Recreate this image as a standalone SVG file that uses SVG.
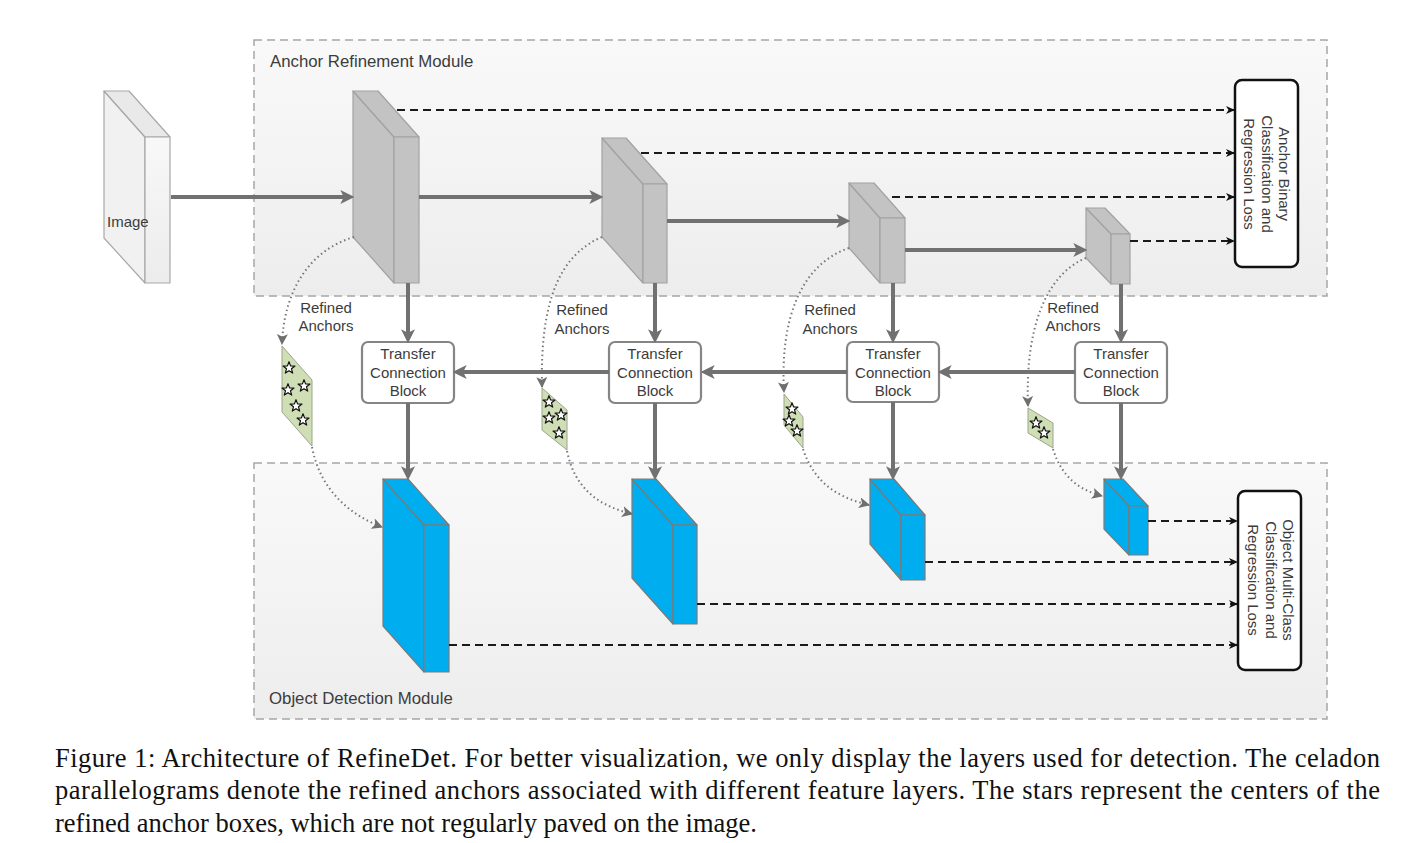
<svg xmlns="http://www.w3.org/2000/svg" width="1426" height="843" viewBox="0 0 1426 843">
<style>
.mod{stroke:#a6a6a6;stroke-width:1.5;stroke-dasharray:8,5;}
.lbl{font-family:"Liberation Sans",Arial,sans-serif;fill:#3c3c3c;}
.mlbl{font-size:16.8px;}
.t15{font-size:15px;}
.gray{fill:#c3c3c3;stroke:#a2a2a2;stroke-width:1.2;stroke-linejoin:round;}
.blue{fill:#00aeef;stroke:#7a7a7a;stroke-width:1.2;stroke-linejoin:round;}
.img{stroke:#a8a8a8;stroke-width:1.2;stroke-linejoin:round;}
.tcb{fill:#ffffff;stroke:#858585;stroke-width:2.2;}
.loss{fill:#ffffff;stroke:#111111;stroke-width:2.5;}
.thick{fill:none;stroke:#717171;stroke-width:4;marker-end:url(#ah);}
.dash{fill:none;stroke:#1a1a1a;stroke-width:1.8;stroke-dasharray:8,5;marker-end:url(#ad);}
.dot{fill:none;stroke:#777777;stroke-width:2;stroke-dasharray:1.5,3;marker-end:url(#ao);}
.cel{fill:#d0deb6;stroke:#9aa58a;stroke-width:1;}
.star{fill:#ffffff;stroke:#111111;stroke-width:1.2;stroke-linejoin:round;}
.cap{font-family:"Liberation Serif","Times New Roman",serif;font-size:26.5px;fill:#111111;}
</style>
<defs>
<linearGradient id="gbg" x1="0" y1="0" x2="0" y2="1">
<stop offset="0" stop-color="#f9f9f9"/>
<stop offset="1" stop-color="#ededed"/>
</linearGradient>
<linearGradient id="gimg" x1="0" y1="0" x2="0" y2="1">
<stop offset="0" stop-color="#f8f8f8"/>
<stop offset="1" stop-color="#ececec"/>
</linearGradient>
<marker id="ah" markerUnits="userSpaceOnUse" markerWidth="14" markerHeight="14" viewBox="0 0 12 12" refX="4" refY="6" orient="auto">
<path d="M0,0 L12,6 L0,12 L3,6 Z" fill="#717171"/>
</marker>
<marker id="ad" markerUnits="userSpaceOnUse" markerWidth="9" markerHeight="9" viewBox="0 0 9 9" refX="8" refY="4.5" orient="auto">
<path d="M0,0.5 L9,4.5 L0,8.5 L2.5,4.5 Z" fill="#111111"/>
</marker>
<marker id="ao" markerUnits="userSpaceOnUse" markerWidth="11" markerHeight="11" viewBox="0 0 10 10" refX="9" refY="5" orient="auto">
<path d="M0,0 L10,5 L0,10 L2.5,5 Z" fill="#6f6f6f"/>
</marker>
<path id="st" class="star" d="M0,-6.3 L1.55,-2.13 L5.99,-1.95 L2.51,0.81 L3.7,5.1 L0,2.63 L-3.7,5.1 L-2.51,0.81 L-5.99,-1.95 L-1.55,-2.13 Z"/>
</defs>
<rect width="1426" height="843" fill="#ffffff"/>

<g id="arm">
<rect class="mod" x="254" y="40" width="1073" height="256" fill="url(#gbg)"/>
<text class="lbl mlbl" x="270" y="67">Anchor Refinement Module</text>
</g>
<g id="odm">
<rect class="mod" x="254" y="463" width="1073" height="256" fill="url(#gbg)"/>
<text class="lbl mlbl" x="269" y="704">Object Detection Module</text>
</g>

<g id="image">
<polygon class="img" fill="#f1f1f1" points="104,91 145,137 145,283 104,238"/>
<polygon class="img" fill="#e9e9e9" points="104,91 129,91 170,137 145,137"/>
<rect class="img" fill="url(#gimg)" x="145" y="137" width="25" height="146"/>
<text class="lbl t15" x="107" y="227">Image</text>
</g>

<g id="arm1">
<polygon class="gray" points="353,91 394,137 394,283 353,237"/>
<polygon class="gray" points="353,91 378,91 419,137 394,137"/>
<rect class="gray" x="394" y="137" width="25" height="146"/>
</g>
<g id="arm2">
<polygon class="gray" points="602,138 643,184 643,283 602,237"/>
<polygon class="gray" points="602,138 626,138 667,184 643,184"/>
<rect class="gray" x="643" y="184" width="24" height="99"/>
</g>
<g id="arm3">
<polygon class="gray" points="849,183 880,218 880,283 849,248"/>
<polygon class="gray" points="849,183 874,183 905,218 880,218"/>
<rect class="gray" x="880" y="218" width="25" height="65"/>
</g>
<g id="arm4">
<polygon class="gray" points="1086,208 1111,234 1111,284 1086,258"/>
<polygon class="gray" points="1086,208 1105,208 1130,234 1111,234"/>
<rect class="gray" x="1111" y="234" width="19" height="50"/>
</g>

<g id="loss_arm">
<rect class="loss" x="1235" y="80" width="63" height="187" rx="7"/>
<text class="lbl t15" fill="#333" text-anchor="middle" transform="translate(1279,174) rotate(90)"><tspan x="0" y="0">Anchor Binary</tspan><tspan x="0" y="17.5">Classification and</tspan><tspan x="0" y="35">Regression Loss</tspan></text>
</g>
<g id="loss_odm">
<rect class="loss" x="1238" y="491" width="63" height="179" rx="7"/>
<text class="lbl t15" fill="#333" text-anchor="middle" transform="translate(1283,580) rotate(90)"><tspan x="0" y="0">Object Multi-Class</tspan><tspan x="0" y="17.5">Classification and</tspan><tspan x="0" y="35">Regression Loss</tspan></text>
</g>

<g id="tcb1">
<rect class="tcb" x="362" y="342" width="92" height="61" rx="6"/>
<text class="lbl t15" text-anchor="middle"><tspan x="408" y="359">Transfer</tspan><tspan x="408" y="377.5">Connection</tspan><tspan x="408" y="396">Block</tspan></text>
</g>
<g id="tcb2">
<rect class="tcb" x="609" y="342" width="92" height="61" rx="6"/>
<text class="lbl t15" text-anchor="middle"><tspan x="655" y="359">Transfer</tspan><tspan x="655" y="377.5">Connection</tspan><tspan x="655" y="396">Block</tspan></text>
</g>
<g id="tcb3">
<rect class="tcb" x="847" y="342" width="92" height="60" rx="6"/>
<text class="lbl t15" text-anchor="middle"><tspan x="893" y="359">Transfer</tspan><tspan x="893" y="377.5">Connection</tspan><tspan x="893" y="396">Block</tspan></text>
</g>
<g id="tcb4">
<rect class="tcb" x="1075" y="342" width="92" height="61" rx="6"/>
<text class="lbl t15" text-anchor="middle"><tspan x="1121" y="359">Transfer</tspan><tspan x="1121" y="377.5">Connection</tspan><tspan x="1121" y="396">Block</tspan></text>
</g>

<g id="odm1">
<polygon class="blue" points="383,479 424,525 424,672 383,626"/>
<polygon class="blue" points="383,479 408,479 449,525 424,525"/>
<rect class="blue" x="424" y="525" width="25" height="147"/>
</g>
<g id="odm2">
<polygon class="blue" points="632,479 673,525 673,624 632,578"/>
<polygon class="blue" points="632,479 656,479 697,525 673,525"/>
<rect class="blue" x="673" y="525" width="24" height="99"/>
</g>
<g id="odm3">
<polygon class="blue" points="870,479 901,515 901,580 870,544"/>
<polygon class="blue" points="870,479 894,479 925,515 901,515"/>
<rect class="blue" x="901" y="515" width="24" height="65"/>
</g>
<g id="odm4">
<polygon class="blue" points="1104,479 1129,506 1129,555 1104,529"/>
<polygon class="blue" points="1104,479 1123,479 1148,506 1129,506"/>
<rect class="blue" x="1129" y="506" width="19" height="49"/>
</g>

<g id="anchors1">
<polygon class="cel" points="282,346 312,380 312,446 282,412"/>
<use href="#st" x="289" y="368"/><use href="#st" x="304" y="386"/><use href="#st" x="288" y="390"/><use href="#st" x="296" y="406"/><use href="#st" x="303" y="420"/>
<text class="lbl t15" text-anchor="middle"><tspan x="326" y="313">Refined</tspan><tspan x="326" y="331">Anchors</tspan></text>
</g>
<g id="anchors2">
<polygon class="cel" points="542,388 567,410 567,450 542,430"/>
<use href="#st" x="549" y="402"/><use href="#st" x="561" y="415"/><use href="#st" x="549" y="418"/><use href="#st" x="559" y="433"/>
<text class="lbl t15" text-anchor="middle"><tspan x="582" y="315">Refined</tspan><tspan x="582" y="334">Anchors</tspan></text>
</g>
<g id="anchors3">
<polygon class="cel" points="784,394 803,417 803,448 784,425"/>
<use href="#st" x="792" y="409"/><use href="#st" x="789" y="421"/><use href="#st" x="797" y="431"/>
<text class="lbl t15" text-anchor="middle"><tspan x="830" y="315">Refined</tspan><tspan x="830" y="334">Anchors</tspan></text>
</g>
<g id="anchors4">
<polygon class="cel" points="1028,408 1053,423 1053,448 1028,433"/>
<use href="#st" x="1036" y="423"/><use href="#st" x="1044" y="433"/>
<text class="lbl t15" text-anchor="middle"><tspan x="1073" y="313">Refined</tspan><tspan x="1073" y="331">Anchors</tspan></text>
</g>

<g id="connectors">
<path class="thick" d="M171,197 H345"/>
<path class="thick" d="M419,197 H594"/>
<path class="thick" d="M667,221 H841"/>
<path class="thick" d="M905,250 H1078"/>
<path class="thick" d="M408,283 V334"/>
<path class="thick" d="M655,283 V334"/>
<path class="thick" d="M893,283 V334"/>
<path class="thick" d="M1121,284 V334"/>
<path class="thick" d="M1075,372 H947"/>
<path class="thick" d="M847,372 H710"/>
<path class="thick" d="M609,372 H462"/>
<path class="thick" d="M408,403 V471"/>
<path class="thick" d="M655,403 V471"/>
<path class="thick" d="M893,402 V471"/>
<path class="thick" d="M1121,403 V471"/>
<path class="dash" d="M397,110 H1234"/>
<path class="dash" d="M641,153 H1234"/>
<path class="dash" d="M892,197 H1234"/>
<path class="dash" d="M1130,241 H1234"/>
<path class="dash" d="M1148,521 H1237"/>
<path class="dash" d="M925,562 H1237"/>
<path class="dash" d="M697,604 H1237"/>
<path class="dash" d="M449,645 H1237"/>
<path class="dot" d="M354,237 C310,250 284,290 282,344"/>
<path class="dot" d="M312,447 C320,490 350,515 382,527"/>
<path class="dot" d="M602,237 C560,255 540,300 542,387"/>
<path class="dot" d="M567,451 C575,490 600,506 632,514"/>
<path class="dot" d="M849,248 C800,265 780,320 784,392"/>
<path class="dot" d="M803,449 C815,485 840,498 869,505"/>
<path class="dot" d="M1086,258 C1045,275 1025,330 1028,406"/>
<path class="dot" d="M1053,449 C1062,478 1080,490 1102,496"/>
</g>

<g id="caption">
<text class="cap" x="55" y="767" textLength="1325" lengthAdjust="spacing">Figure 1: Architecture of RefineDet. For better visualization, we only display the layers used for detection. The celadon</text>
<text class="cap" x="55" y="799" textLength="1325" lengthAdjust="spacing">parallelograms denote the refined anchors associated with different feature layers. The stars represent the centers of the</text>
<text class="cap" x="55" y="832">refined anchor boxes, which are not regularly paved on the image.</text>
</g>
</svg>
